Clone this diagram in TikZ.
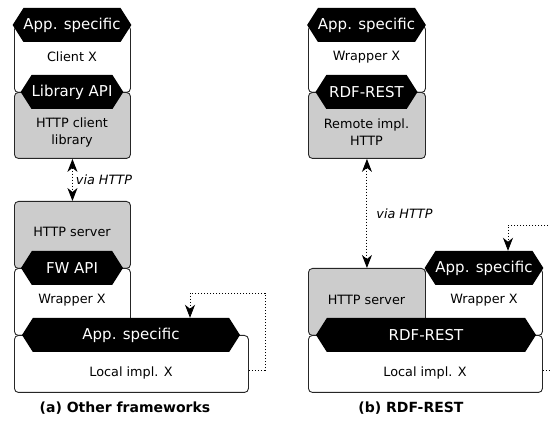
\documentclass[tikz,border=0pt]{standalone}
\usepackage{fontspec}
\setmainfont{DejaVu Sans}
\usepackage{tikz}
\usetikzlibrary{shapes.symbols,arrows.meta}

\definecolor{implgray}{HTML}{CCCCCC}

\tikzset{
    box/.style={draw=black!85, line width=0.9pt, rounded corners=4pt, anchor=north west, inner sep=0pt},
    api/.style={signal, signal to=west and east, signal pointer angle=115, fill=black, text=white,
        minimum height=34pt, inner sep=0pt, font=\fontsize{15}{17}\selectfont},
    lbl/.style={align=center, inner sep=0pt, font=\fontsize{12.8}{17}\selectfont},
    link/.style={line width=1pt, dash pattern=on 1.5pt off 1.5pt,
        {Stealth[length=13pt,width=10pt,inset=4pt]}-{Stealth[length=13pt,width=10pt,inset=4pt]}},
    loopback/.style={line width=0.8pt, dash pattern=on 1.5pt off 1.5pt,
        -{Stealth[length=13pt,width=10pt,inset=4pt]}},
    caption/.style={font=\fontsize{14}{16}\selectfont\bfseries, inner sep=0pt}
}

\begin{document}
\begin{tikzpicture}[x=1pt,y=-1pt]
    \useasboundingbox (0,0) rectangle (550,433);
    \clip (0,0) rectangle (550,433);

    % (a) other frameworks
    \node[box, fill=white, minimum width=116pt, minimum height=67pt] (clientA) at (14,25) {};
    \node[box, fill=implgray, minimum width=116pt, minimum height=66pt] (libA) at (14,92) {};
    \node[box, fill=implgray, minimum width=116pt, minimum height=67pt] (serverA) at (14,201) {};
    \node[box, fill=white, minimum width=116pt, minimum height=67pt] (wrapA) at (14,268) {};
    \node[box, fill=white, minimum width=234pt, minimum height=57pt] (localA) at (14,335) {};

    \node[api, minimum width=102pt] (appTopA) at (72,25) {App. specific};
    \node[api, minimum width=102pt] (libApiA) at (72,92) {Library API};
    \node[api, minimum width=102pt] (fwA) at (72,268) {FW API};
    \node[api, minimum width=218pt] (appLocalA) at (131,335) {App. specific};

    \node[lbl] (clientAtxt) at (72,57) {Client X};
    \node[lbl] (libAtxt) at (72,132) {HTTP client\\library};
    \node[lbl] (serverAtxt) at (72,232) {HTTP server};
    \node[lbl] (wrapAtxt) at (72,300) {Wrapper X};
    \node[lbl] (localAtxt) at (131,373) {Local impl. X};

    \draw[link] (libA.south) -- node[right=3pt, lbl, font=\fontsize{12.8}{17}\selectfont\itshape] (viaA) {via HTTP} (serverA.north);
    \coordinate (turnA) at (190,293);
    \draw[loopback] ([yshift=-6pt]localA.east) -| (265,293) -- (turnA) -- (turnA |- appLocalA.north);

    % (b) RDF-REST
    \node[box, fill=white, minimum width=117pt, minimum height=67pt] (wrapTopB) at (308,25) {};
    \node[box, fill=implgray, minimum width=117pt, minimum height=66pt] (remoteB) at (308,92) {};
    \node[box, fill=implgray, minimum width=117pt, minimum height=67pt] (serverB) at (308,268) {};
    \node[box, fill=white, minimum width=117pt, minimum height=67pt] (wrapB) at (425,268) {};
    \node[box, fill=white, minimum width=234pt, minimum height=57pt] (localB) at (308,335) {};

    \node[api, minimum width=102pt] (appTopB) at (366.5,25) {App. specific};
    \node[api, minimum width=102pt] (rdfTopB) at (366.5,92) {RDF-REST};
    \node[api, minimum width=102pt] (appWrapB) at (484,268) {App. specific};
    \node[api, minimum width=220pt] (rdfLocalB) at (426,335) {RDF-REST};

    \node[lbl] (wrapTopBtxt) at (366.5,57) {Wrapper X};
    \node[lbl] (remoteBtxt) at (366.5,132) {Remote impl.\\HTTP};
    \node[lbl] (serverBtxt) at (366.5,300) {HTTP server};
    \node[lbl] (wrapBtxt) at (484,300) {Wrapper X};
    \node[lbl] (localBtxt) at (425,373) {Local impl. X};

    \draw[link] (remoteB.south) -- node[right=9pt, lbl, font=\fontsize{12.8}{17}\selectfont\itshape] (viaB) {via HTTP} (serverB.north);
    \coordinate (turnB) at (508,225);
    \draw[loopback] ([yshift=-6pt]localB.east) -| (560,225) -- (turnB) -- (turnB |- appWrapB.north);

    \node[caption] (capA) at (125,408) {(a) Other frameworks};
    \node[caption] (capB) at (411,408) {(b) RDF-REST};
\end{tikzpicture}
\end{document}
